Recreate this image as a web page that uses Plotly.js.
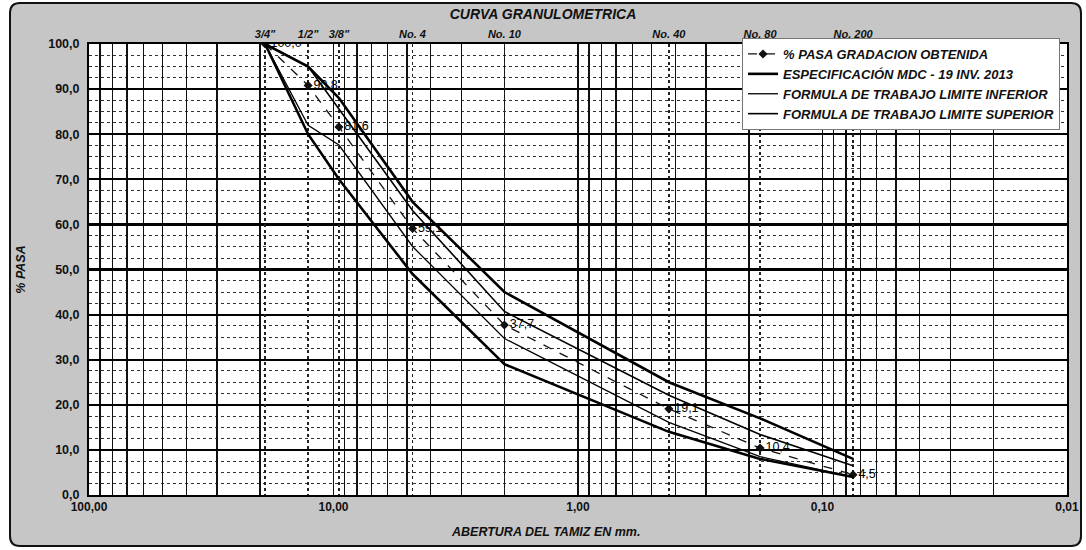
<!DOCTYPE html>
<html>
<head>
<meta charset="utf-8">
<script src="https://cdn.plot.ly/plotly-3.0.1.min.js"></script>
<style>
html,body{margin:0;padding:0;background:#fff;}
#chart{width:1086px;height:550px;}
</style>
</head>
<body>
<div id="chart"></div>
<script>
// ---- data ----
const sieveLabels = ['3/4"', '1/2"', '3/8"', 'No. 4', 'No. 10', 'No. 40', 'No. 80', 'No. 200'];
const sieveSizesMm = [19.05, 12.7, 9.5, 4.75, 2.0, 0.425, 0.18, 0.075];
const pasaObtenida = [100.0, 90.8, 81.6, 59.1, 37.7, 19.1, 10.4, 4.5];
const especInferior = [100, 80, 70, 49, 29, 14, 8, 4];
const especSuperior = [100, 95, 88, 65, 45, 25, 17, 8];
const formulaInferior = [100, 82, 77.6, 55.1, 34.7, 16.1, 8.5, 4];
const formulaSuperior = [100, 95, 85.6, 63.1, 40.7, 22.1, 13.4, 6.5];
const xDecadeValues = [100, 10, 1, 0.1, 0.01];
const xDecadeLabels = ['100,00', '10,00', '1,00', '0,10', '0,01'];
const yTickValues = [0, 10, 20, 30, 40, 50, 60, 70, 80, 90, 100];
const yTickLabels = ['0,0', '10,0', '20,0', '30,0', '40,0', '50,0', '60,0', '70,0', '80,0', '90,0', '100,0'];
const legendNames = ['% PASA GRADACION OBTENIDA', 'ESPECIFICACIÓN MDC - 19 INV. 2013',
  'FORMULA DE TRABAJO LIMITE INFERIOR', 'FORMULA DE TRABAJO LIMITE SUPERIOR'];

// ---- log grid positions (1..9 x 10^n) for the vertical gridlines ----
const gridVals = [], gridText = [];
[10, 1, 0.1, 0.01].forEach(dec => {
  for (let m = 10; m >= 1; m--) {
    const v = +(m * dec).toPrecision(3);
    if (gridVals.indexOf(v) === -1) {
      gridVals.push(v);
      const k = xDecadeValues.indexOf(v);
      gridText.push(k >= 0 ? xDecadeLabels[k] : '');
    }
  }
});

const FONT = 'Liberation Sans, Arial, sans-serif';
const pasaText = pasaObtenida.map(v => v.toFixed(1).replace('.', ','));

const traces = [
  {
    x: sieveSizesMm, y: pasaObtenida, name: legendNames[0], type: 'scatter',
    mode: 'lines+markers+text', text: pasaText, textposition: 'middle right',
    textfont: {family: FONT, size: 12.5, color: '#000000'},
    line: {color: '#111', width: 1.3, dash: 'dash'},
    marker: {symbol: 'diamond', size: 7, color: '#111'},
    hoverinfo: 'x+y'
  },
  {
    x: sieveSizesMm, y: especInferior, name: legendNames[1], type: 'scatter', mode: 'lines',
    legendgroup: 'esp', line: {color: '#000', width: 2.6}, hoverinfo: 'x+y'
  },
  {
    x: sieveSizesMm, y: formulaInferior, name: legendNames[2], type: 'scatter', mode: 'lines',
    line: {color: '#000', width: 1.3}, hoverinfo: 'x+y'
  },
  {
    x: sieveSizesMm, y: formulaSuperior, name: legendNames[3], type: 'scatter', mode: 'lines',
    line: {color: '#000', width: 1.6}, hoverinfo: 'x+y'
  },
  {
    x: sieveSizesMm, y: especSuperior, name: legendNames[1], type: 'scatter', mode: 'lines',
    legendgroup: 'esp', showlegend: false, xaxis: 'x2',
    line: {color: '#000', width: 2.6}, hoverinfo: 'x+y'
  }
];

// paper-coordinate helpers for the frame (plot area: x 89..1067, y 44..495)
const PL = 89, PR = 1067, PT = 44, PB = 495;
const px = X => (X - PL) / (PR - PL);
const py = Y => (PB - Y) / (PB - PT);
function roundRect(x0, y0, x1, y1, r) {
  const a = px(x0), b = px(x1), c = py(y0), d = py(y1);
  const rx = r / (PR - PL), ry = r / (PB - PT);
  return `M ${a + rx},${c} L ${b - rx},${c} Q ${b},${c} ${b},${c - ry} L ${b},${d + ry} Q ${b},${d} ${b - rx},${d} ` +
         `L ${a + rx},${d} Q ${a},${d} ${a},${d + ry} L ${a},${c - ry} Q ${a},${c} ${a + rx},${c} Z`;
}

const layout = {
  width: 1086, height: 550,
  margin: {l: PL, r: 1086 - PR, t: PT, b: 550 - PB},
  paper_bgcolor: '#ffffff', plot_bgcolor: '#ffffff',
  separators: ',.',
  font: {family: FONT, color: '#111'},
  title: {
    text: 'CURVA GRANULOMETRICA', xref: 'container', x: 0.5, xanchor: 'center',
    yref: 'container', y: 1 - 14 / 550, yanchor: 'middle',
    font: {family: FONT, size: 14, weight: 'bold', style: 'italic', color: '#111'}
  },
  showlegend: true,
  legend: {
    x: px(742), y: py(38), xanchor: 'left', yanchor: 'top',
    bgcolor: '#ffffff', bordercolor: '#777', borderwidth: 1,
    font: {family: FONT, size: 13, weight: 'bold', style: 'italic', color: '#111'},
    tracegroupgap: 0, itemwidth: 30
  },
  xaxis: {
    type: 'log', range: [2, -2], autorange: false,
    tickmode: 'array', tickvals: gridVals, ticktext: gridText,
    ticks: '', tickfont: {family: FONT, size: 12, weight: 'bold', color: '#111'},
    showgrid: true, gridcolor: '#111', gridwidth: 1.4,
    showline: true, linecolor: '#000', linewidth: 2, mirror: true,
    zeroline: false
  },
  xaxis2: {
    type: 'log', range: [2, -2], autorange: false, overlaying: 'x', side: 'top', anchor: 'y',
    tickmode: 'array', tickvals: sieveSizesMm, ticktext: sieveLabels, ticks: '',
    ticklabelstandoff: 3,
    tickfont: {family: FONT, size: 11, weight: 'bold', style: 'italic', color: '#111'},
    showgrid: true, gridcolor: '#222', gridwidth: 1.6, griddash: 'dot',
    showline: false, zeroline: false
  },
  yaxis: {
    range: [0, 100], autorange: false,
    tickmode: 'array', tickvals: yTickValues, ticktext: yTickLabels, ticks: '',
    ticklabelstandoff: 5,
    tickfont: {family: FONT, size: 12.5, weight: 'bold', color: '#111'},
    showgrid: true, gridcolor: '#000', gridwidth: 2.2,
    minor: {dtick: 2.5, showgrid: true, gridcolor: '#333', gridwidth: 1, griddash: 'dot'},
    showline: true, linecolor: '#000', linewidth: 2, mirror: true,
    zeroline: false,
    title: {text: '% PASA', standoff: 20,
      font: {family: FONT, size: 12.5, weight: 'bold', style: 'italic', color: '#111'}}
  },
  annotations: [
    {text: 'ABERTURA DEL TAMIZ EN mm.', xref: 'paper', yref: 'paper',
     x: px(545), y: py(532), xanchor: 'center', yanchor: 'middle', showarrow: false,
     font: {family: FONT, size: 12.5, weight: 'bold', style: 'italic', color: '#111'}}
  ],
  shapes: [
    {type: 'path', xref: 'paper', yref: 'paper', layer: 'below',
     path: roundRect(10, 3, 1081, 546, 10), fillcolor: '#c6c6c6',
     line: {color: '#111', width: 2}},
    {type: 'rect', xref: 'paper', yref: 'paper', layer: 'below',
     x0: 0, x1: 1, y0: 0, y1: 1, fillcolor: '#ffffff', line: {width: 0}}
  ]
};

Plotly.newPlot('chart', traces, layout, {displayModeBar: false, staticPlot: true});
</script>
</body>
</html>
